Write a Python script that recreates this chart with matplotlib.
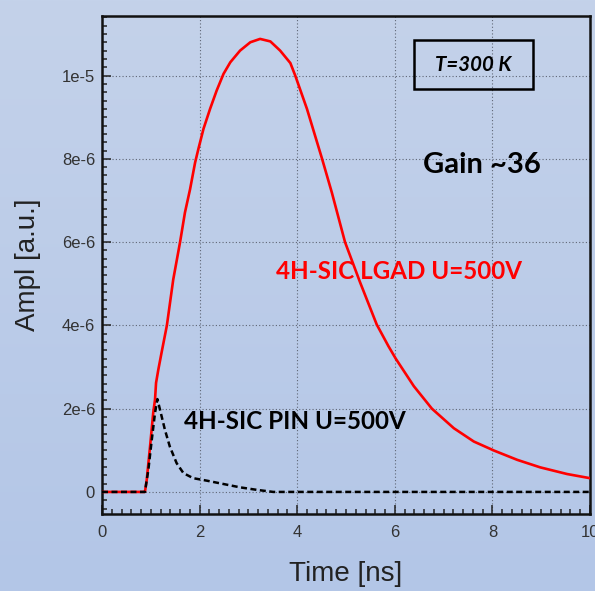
import numpy as np
import matplotlib
matplotlib.use("Agg")
import matplotlib.pyplot as plt
from matplotlib.ticker import MultipleLocator, FixedLocator, FixedFormatter
from matplotlib.patches import Rectangle
from matplotlib.colors import LinearSegmentedColormap

# LGAD signal (red), amplitude in units of 1e-6
lgad_t = [0, 0.88, 0.917, 0.985, 1.05, 1.087, 1.108, 1.155, 1.22, 1.33, 1.46,
          1.60, 1.70, 1.805, 1.908, 1.976, 2.08, 2.215, 2.35, 2.49, 2.63, 2.83,
          3.04, 3.24, 3.45, 3.65, 3.86, 3.96, 4.2, 4.51, 4.71, 4.98, 5.29,
          5.63, 5.87, 6.02, 6.39, 6.76, 7.21, 7.62, 8.04, 8.51, 8.98, 9.53,
          10.0]
lgad_a = [0, 0, 0.29, 1.09, 1.9, 2.22, 2.62, 2.94, 3.34, 4.0, 5.1,
          6.0, 6.71, 7.27, 7.91, 8.24, 8.72, 9.2, 9.64, 10.04, 10.32, 10.6,
          10.8, 10.88, 10.82, 10.6, 10.3, 10.0, 9.2, 8.0, 7.19, 6.0, 5.03,
          4.02, 3.5, 3.2, 2.54, 2.0, 1.53, 1.21, 0.99, 0.77, 0.59, 0.43,
          0.33]

# PIN signal (black dashed)
pin_t = [0, 0.88, 0.95, 1.02, 1.087, 1.135, 1.19, 1.29, 1.39, 1.53, 1.67,
         1.87, 2.15, 2.49, 2.83, 3.17, 3.51, 10.0]
pin_a = [0, 0, 0.53, 1.25, 1.9, 2.23, 1.97, 1.49, 1.09, 0.69, 0.45,
         0.33, 0.27, 0.19, 0.11, 0.05, 0, 0]

y_ticks = [0, 2e-6, 4e-6, 6e-6, 8e-6, 1e-5]
y_labels = ["0", "2e-6", "4e-6", "6e-6", "8e-6", "1e-5"]
x_ticks = [0, 2, 4, 6, 8, 10]

fig = plt.figure(figsize=(5.95, 5.91), dpi=100)

# light blue gradient background
bg = fig.add_axes([0, 0, 1, 1], zorder=-10)
grad = np.linspace(0, 1, 256).reshape(-1, 1)
cmap = LinearSegmentedColormap.from_list("bg", ["#c4d2ea", "#b3c6e7"])
bg.imshow(grad, aspect="auto", cmap=cmap, extent=[0, 1, 0, 1], origin="upper")
bg.axis("off")

ax = fig.add_axes([0.1714, 0.1303, 0.8202, 0.8426])
ax.set_facecolor("none")

ax.plot(lgad_t, np.array(lgad_a) * 1e-6, color="#ff0000", lw=1.9, zorder=3)
ax.plot(pin_t, np.array(pin_a) * 1e-6, color="black", lw=1.8,
        linestyle=(0, (2.4, 1.4)), zorder=4)

ax.set_xlim(0, 10)
ax.set_ylim(-0.53e-6, 11.43e-6)

ax.xaxis.set_major_locator(FixedLocator(x_ticks))
ax.xaxis.set_minor_locator(MultipleLocator(0.2))
ax.yaxis.set_major_locator(FixedLocator(y_ticks))
ax.yaxis.set_major_formatter(FixedFormatter(y_labels))
ax.yaxis.set_minor_locator(MultipleLocator(0.2e-6))

ax.tick_params(which="both", direction="in", colors="#222222", width=1.1,
               labelsize=12, labelcolor="#333333")
ax.tick_params(which="major", length=6.5)
ax.tick_params(which="minor", length=3.5)
ax.tick_params(axis="x", pad=8)
ax.tick_params(axis="y", pad=5)
for lab in ax.get_xticklabels() + ax.get_yticklabels():
    lab.set_family("Liberation Sans")

for s in ax.spines.values():
    s.set_linewidth(1.8)
    s.set_color("#111111")

ax.grid(True, which="major", color="#5f6675", lw=0.8, linestyle=(0, (1, 2)))
ax.set_axisbelow(True)

ax.set_xlabel("Time [ns]", fontsize=20, family="Liberation Sans", color="#222222")
ax.set_ylabel("Ampl [a.u.]", fontsize=20, family="Liberation Sans", color="#222222")
ax.xaxis.set_label_coords(0.5, -0.094)
ax.yaxis.set_label_coords(-0.125, 0.5)

ax.text(0.779, 0.701, "Gain ~36", transform=ax.transAxes, fontsize=21,
        fontweight="bold", family="Lato", ha="center", va="center", color="black")
ax.text(0.760, 0.902, "T=300 K", transform=ax.transAxes, fontsize=14.7,
        fontweight="bold", style="italic", family="Lato", ha="center",
        va="center", color="black")
ax.add_patch(Rectangle((0.639, 0.853), 0.244, 0.099, transform=ax.transAxes,
                       fill=False, lw=1.8, edgecolor="black", zorder=5))
ax.text(0.6076, 0.486, "4H-SIC LGAD U=500V", transform=ax.transAxes,
        fontsize=17.4, fontweight="bold", family="Lato", ha="center",
        va="center", color="#ff0000")
ax.text(0.3955, 0.185, "4H-SIC PIN U=500V", transform=ax.transAxes,
        fontsize=17.4, fontweight="bold", family="Lato", ha="center",
        va="center", color="black")

fig.savefig("out.png", dpi=100)
